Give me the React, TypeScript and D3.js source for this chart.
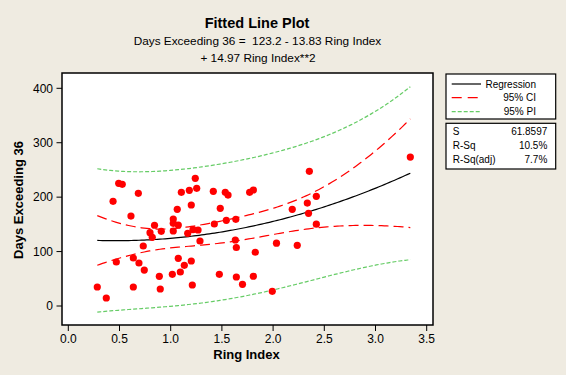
import React from "react";
import * as d3 from "d3";

const ringIndex = [
  0.283, 0.371, 0.437, 0.469, 0.492, 0.527, 0.612, 0.635, 0.635, 0.684,
  0.69, 0.732, 0.742, 0.798, 0.82, 0.842, 0.889, 0.898, 0.908, 1.016,
  1.025, 1.025, 1.074, 1.025, 1.064, 1.074, 1.094, 1.104, 1.133, 1.166,
  1.182, 1.201, 1.201, 1.211, 1.218, 1.24, 1.254, 1.267, 1.286, 1.416,
  1.426, 1.475, 1.484, 1.533, 1.56, 1.543, 1.636, 1.631, 1.641, 1.641,
  1.701, 1.771, 1.807, 1.807, 1.826, 1.992, 2.033, 2.187, 2.236, 2.334,
  2.346, 2.354, 2.422, 2.422, 3.34,
];
const daysExceeding = [
  34.9, 14.7, 192.4, 80.8, 225.4, 223.6, 165.3, 88.2, 34.9, 207.1,
  79.0, 110.2, 66.1, 134.7, 126.2, 148.4, 54.6, 31.2, 137.2, 58.2,
  159.8, 151.9, 148.8, 137.8, 177.7, 87.6, 62.5, 208.9, 74.8, 133.6,
  212.6, 185.6, 82.7, 38.6, 140.2, 234.6, 216.2, 139.6, 119.4, 210.7,
  150.7, 58.2, 179.5, 208.9, 203.9, 157.5, 159.3, 121.3, 107.5, 53.3,
  39.9, 208.9, 213.1, 54.7, 98.8, 27.0, 115.4, 177.7, 111.5, 189.2,
  170.3, 247.5, 201.5, 150.3, 273.7,
];
const coefficients = [123.2, -13.83, 14.97];
const sValue = 61.8597;
const tCrit = 1.998;
const xTicks = [0, 0.5, 1, 1.5, 2, 2.5, 3, 3.5];
const yTicks = [0, 100, 200, 300, 400];
const legendLabels = ["Regression", "95% CI", "95% PI"];
const statLabels = ["S", "R-Sq", "R-Sq(adj)"];
const statValues = ["61.8597", "10.5%", "7.7%"];

const FONT = "'Liberation Sans', Arial, sans-serif";
const GREEN = "#66cc66";
const RED = "#ff0000";

function inv3(m: number[][]) {
  const [a, b, c] = m[0];
  const [d, e, f] = m[1];
  const [g, h, i] = m[2];
  const A = e * i - f * h, B = -(d * i - f * g), C = d * h - e * g;
  const D = -(b * i - c * h), E = a * i - c * g, F = -(a * h - b * g);
  const G = b * f - c * e, H = -(a * f - c * d), I = a * e - b * d;
  const det = a * A + b * B + c * C;
  return [
    [A / det, D / det, G / det],
    [B / det, E / det, H / det],
    [C / det, F / det, I / det],
  ];
}

export default function App() {
  const W = 566, H = 375;
  const plot = { left: 62, right: 433, top: 73, bottom: 325 };
  const x = d3.scaleLinear().domain([0, 3.5]).range([68.3, 426.7]);
  const y = d3.scaleLinear().domain([0, 400]).range([306, 88.3]);

  // X'X for quadratic model
  const xtx = [
    [0, 0, 0],
    [0, 0, 0],
    [0, 0, 0],
  ];
  ringIndex.forEach((v) => {
    const row = [1, v, v * v];
    for (let r = 0; r < 3; r++) for (let c = 0; c < 3; c++) xtx[r][c] += row[r] * row[c];
  });
  const xtxi = inv3(xtx);
  const lev = (v: number) => {
    const r = [1, v, v * v];
    let s = 0;
    for (let i = 0; i < 3; i++) for (let j = 0; j < 3; j++) s += r[i] * xtxi[i][j] * r[j];
    return s;
  };
  const fit = (v: number) => coefficients[0] + coefficients[1] * v + coefficients[2] * v * v;

  const xmin = d3.min(ringIndex)!;
  const xmax = d3.max(ringIndex)!;
  const grid = d3.range(0, 121).map((i) => xmin + ((xmax - xmin) * i) / 120);

  const line = d3
    .line<number>()
    .x((v) => x(v))
    .y((v) => 0);

  const mk = (fn: (v: number) => number) =>
    d3
      .line<number>()
      .x((v) => x(v))
      .y((v) => y(fn(v)))(grid) as string;

  const fitPath = mk(fit);
  const ciU = mk((v) => fit(v) + tCrit * sValue * Math.sqrt(lev(v)));
  const ciL = mk((v) => fit(v) - tCrit * sValue * Math.sqrt(lev(v)));
  const piU = mk((v) => fit(v) + tCrit * sValue * Math.sqrt(1 + lev(v)));
  const piL = mk((v) => fit(v) - tCrit * sValue * Math.sqrt(1 + lev(v)));
  void line;

  const cx = (plot.left + plot.right) / 2;
  const legendY = [84, 97.7, 111.7];
  const legendStyles = [
    { stroke: "#000", dash: undefined },
    { stroke: RED, dash: "10,6" },
    { stroke: GREEN, dash: "4,2" },
  ];
  const statY = [135, 149.3, 163.3];

  return (
    <svg
      width={W}
      height={H}
      style={{ position: "absolute", left: 0, top: 0 }}
      fontFamily={FONT}
    >
      <rect x={0} y={0} width={W} height={H} fill="#efebe1" />
      <text x={257} y={28} textAnchor="middle" fontSize={14.5} fontWeight="bold">
        Fitted Line Plot
      </text>
      <text x={257.5} y={45} textAnchor="middle" fontSize={11.8} style={{ whiteSpace: "pre" }}>
        {"Days Exceeding 36 =  123.2 - 13.83 Ring Index"}
      </text>
      <text x={258} y={62} textAnchor="middle" fontSize={11.8}>
        + 14.97 Ring Index**2
      </text>

      <rect
        x={plot.left}
        y={plot.top}
        width={plot.right - plot.left}
        height={plot.bottom - plot.top}
        fill="#fff"
        stroke="#000"
        strokeWidth={1.5}
      />
      <defs>
        <clipPath id="pc">
          <rect x={plot.left} y={plot.top} width={plot.right - plot.left} height={plot.bottom - plot.top} />
        </clipPath>
      </defs>

      {xTicks.map((t) => (
        <g key={"x" + t}>
          <line x1={x(t)} x2={x(t)} y1={plot.bottom} y2={plot.bottom + 6} stroke="#000" />
          <text x={x(t)} y={342.7} textAnchor="middle" fontSize={12}>
            {t.toFixed(1)}
          </text>
        </g>
      ))}
      {yTicks.map((t) => (
        <g key={"y" + t}>
          <line x1={plot.left - 5.5} x2={plot.left} y1={y(t)} y2={y(t)} stroke="#000" />
          <text x={53} y={y(t) + 4.3} textAnchor="end" fontSize={12}>
            {t}
          </text>
        </g>
      ))}
      <text x={cx - 1} y={359} textAnchor="middle" fontSize={13} fontWeight="bold">
        Ring Index
      </text>
      <text
        transform={`translate(23,200) rotate(-90)`}
        textAnchor="middle"
        fontSize={13}
        fontWeight="bold"
      >
        Days Exceeding 36
      </text>

      <g clipPath="url(#pc)">
        <path d={piU} fill="none" stroke={GREEN} strokeWidth={1.2} strokeDasharray="4,2" />
        <path d={piL} fill="none" stroke={GREEN} strokeWidth={1.2} strokeDasharray="4,2" />
        <path d={ciU} fill="none" stroke={RED} strokeWidth={1.2} strokeDasharray="10,5" />
        <path d={ciL} fill="none" stroke={RED} strokeWidth={1.2} strokeDasharray="10,5" />
        <path d={fitPath} fill="none" stroke="#000" strokeWidth={1.2} />
        {ringIndex.map((v, i) => (
          <circle key={i} cx={x(v)} cy={y(daysExceeding[i])} r={3.6} fill={RED} />
        ))}
      </g>

      <rect x={446} y={74} width={109.7} height={45} fill="#fff" stroke="#000" strokeWidth={1.2} />
      {legendLabels.map((l, i) => (
        <g key={l}>
          <line
            x1={451.7}
            x2={481}
            y1={legendY[i]}
            y2={legendY[i]}
            stroke={legendStyles[i].stroke}
            strokeWidth={1.2}
            strokeDasharray={legendStyles[i].dash}
          />
          <text x={536} y={legendY[i] + 3.5} textAnchor="end" fontSize={10}>
            {l}
          </text>
        </g>
      ))}
      <rect x={446} y={123.3} width={109.7} height={45.7} fill="#fff" stroke="#000" strokeWidth={1.2} />
      {statLabels.map((l, i) => (
        <g key={l}>
          <text x={452.7} y={statY[i]} fontSize={10}>
            {l}
          </text>
          <text x={547.3} y={statY[i]} textAnchor="end" fontSize={10}>
            {statValues[i]}
          </text>
        </g>
      ))}
    </svg>
  );
}
